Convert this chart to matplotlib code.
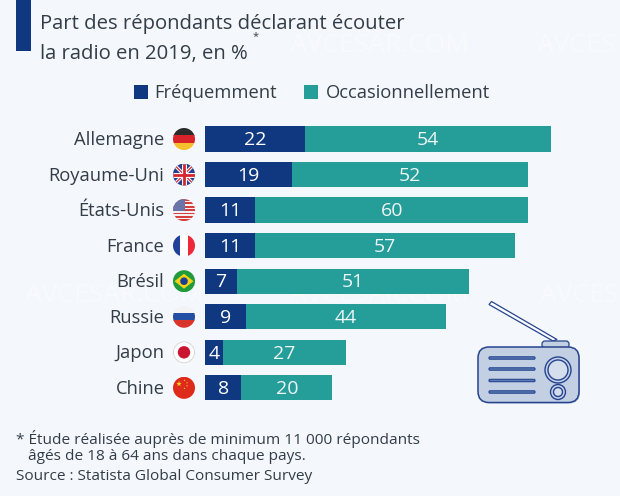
import numpy as np
import matplotlib
matplotlib.use("Agg")
import matplotlib.pyplot as plt
from matplotlib.patches import Circle, Rectangle, FancyBboxPatch, Polygon

countries = ["Allemagne", "Royaume-Uni", "États-Unis", "France", "Brésil", "Russie", "Japon", "Chine"]
frequent = [22, 19, 11, 11, 7, 9, 4, 8]
occasional = [54, 52, 60, 57, 51, 44, 27, 20]
series_names = ["Fréquemment", "Occasionnellement"]
title_lines = ["Part des répondants déclarant écouter", "la radio en 2019, en %"]
notes = ["* Étude réalisée auprès de minimum 11 000 répondants",
         "   âgés de 18 à 64 ans dans chaque pays.",
         "Source : Statista Global Consumer Survey"]

NAVY = "#0f3880"
TEAL = "#259d99"
BG = "#f4f7fb"
TXT = "#333d47"
W, H = 620, 496
plt.rcParams["font.family"] = ["Open Sans", "DejaVu Sans"]

fig = plt.figure(figsize=(W / 100, H / 100), dpi=100, facecolor=BG)

# overlay in pixel coordinates
ov = fig.add_axes([0, 0, 1, 1], zorder=1)
ov.set_xlim(0, W); ov.set_ylim(H, 0); ov.axis("off")

# bar axes
row0, step = 139.0, 35.55
x0, px_per_unit = 205.0, 4.553
n = len(countries)
top_px, bot_px = row0 - step / 2, row0 + (n - 0.5) * step
ax = fig.add_axes([x0 / W, 1 - bot_px / H, (W - x0) / W, (bot_px - top_px) / H], zorder=2)
ax.set_xlim(0, (W - x0) / px_per_unit)
ax.set_ylim(n - 0.5, -0.5)
ax.axis("off"); ax.patch.set_alpha(0)
y = np.arange(n)
freq = np.array(frequent); occ = np.array(occasional)
ax.barh(y, freq, height=0.71, color=NAVY)
ax.barh(y, occ, left=freq, height=0.71, color=TEAL)
for i in range(n):
    ax.text(freq[i] / 2, i - 0.02, str(freq[i]), color="white", ha="center", va="center_baseline", fontsize=14)
    ax.text(freq[i] + occ[i] / 2, i - 0.02, str(occ[i]), color="#eef6f6", ha="center", va="center_baseline", fontsize=14)
    ov.text(164.5, row0 + i * step - 1, countries[i], color=TXT, ha="right", va="center_baseline", fontsize=13.2)

# watermark
for wx, wy, s in [(290, 45, "AVCESAR.COM"), (537, 45, "AVCES"), (25, 295, "AVCESAR.COM"),
                  (290, 295, "AVCESAR.COM"), (540, 295, "AVCES")]:
    ov.text(wx, wy, s, color="#f9fafd", fontsize=19, ha="left", va="center", zorder=0)

# title
ov.add_patch(Rectangle((16, 0), 14.5, 51, color=NAVY, lw=0))
ov.text(40, 21.5, title_lines[0], color=TXT, fontsize=14.6, va="center_baseline")
ov.text(40, 51, title_lines[1], color=TXT, fontsize=14.6, va="center_baseline")
ov.text(253, 35, "*", color=TXT, fontsize=8, va="center_baseline")

# legend
for sx, col, tx, label in [(133.5, NAVY, 154, series_names[0]), (304, TEAL, 325.5, series_names[1])]:
    ov.add_patch(Rectangle((sx, 85), 14, 13.5, color=col, lw=0))
    ov.text(tx, 91, label, color=TXT, fontsize=13.2, va="center_baseline")

# notes
for ny, s in zip([437, 455, 474], notes):
    ov.text(16, ny, s, color=TXT, fontsize=11.1, va="center_baseline")

# flags
FX, FR = 184.0, 11.0
def flag(i, draw):
    cy = row0 + i * step
    clip = Circle((FX, cy), FR, transform=ov.transData)
    arts = draw(cy)
    for a in arts:
        ov.add_artist(a) if not isinstance(a, plt.Line2D) else ov.add_line(a)
        a.set_clip_path(clip)

def R(x, y_, w, h, c):
    return Rectangle((x, y_), w, h, color=c, lw=0)

def stripes_h(cy, cols):
    h = 2 * FR / len(cols)
    return [R(FX - FR, cy - FR + k * h, 2 * FR, h + 0.2, c) for k, c in enumerate(cols)]

def L(xs, ys, c, lw):
    return plt.Line2D(xs, ys, color=c, lw=lw, solid_capstyle="butt")

def de(cy): return stripes_h(cy, ["#2b2b2b", "#d8232a", "#f5c02c"])
def uk(cy):
    a = [R(FX - FR, cy - FR, 2 * FR, 2 * FR, "#26408f")]
    a += [L([FX - 9, FX + 9], [cy - 9, cy + 9], "white", 2.4), L([FX - 9, FX + 9], [cy + 9, cy - 9], "white", 2.4),
          L([FX - 9, FX + 9], [cy - 9, cy + 9], "#d5252f", 0.9), L([FX - 9, FX + 9], [cy + 9, cy - 9], "#d5252f", 0.9),
          L([FX, FX], [cy - FR, cy + FR], "white", 3.6), L([FX - FR, FX + FR], [cy, cy], "white", 3.6),
          L([FX, FX], [cy - FR, cy + FR], "#d5252f", 2), L([FX - FR, FX + FR], [cy, cy], "#d5252f", 2)]
    return a
def us(cy):
    a = stripes_h(cy, ["#d5403f", "#f3f3f3"] * 6 + ["#d5403f"])
    a.append(R(FX - FR, cy - FR, FR + 1, FR + 1, "#6a74a8"))
    return a
def fr(cy):
    return [R(FX - FR, cy - FR, 7.4, 22, "#21409a"), R(FX - 3.7, cy - FR, 7.4, 22, "white"), R(FX + 3.7, cy - FR, 7.4, 22, "#ed2939")]
def br(cy):
    return [R(FX - FR, cy - FR, 22, 22, "#1f9a3c"),
            Polygon([(FX - 9.5, cy), (FX, cy - 7.5), (FX + 9.5, cy), (FX, cy + 7.5)], color="#f7d117", lw=0),
            Circle((FX, cy), 3.8, color="#1c3f8f", lw=0)]
def ru(cy): return stripes_h(cy, ["#f3f3f3", "#2450a4", "#d8342c"])
def jp(cy):
    return [R(FX - FR, cy - FR, 22, 22, "white"), Circle((FX, cy), FR - 0.4, fc="none", ec="#d5d5d5", lw=0.8),
            Circle((FX, cy), 6.2, color="#c9152f", lw=0)]
def cn(cy):
    a = [R(FX - FR, cy - FR, 22, 22, "#de2a1b")]
    for sx, sy, s in [(FX - 5, cy - 4, 2.8), (FX + 0.5, cy - 7.5, 1), (FX + 3, cy - 5, 1), (FX + 3, cy - 2, 1), (FX + 0.5, cy + 0.5, 1)]:
        ang = np.deg2rad(-90 + 36 * np.arange(10))
        rad = np.where(np.arange(10) % 2 == 0, s, s * 0.42)
        a.append(Polygon(np.c_[sx + rad * np.cos(ang), sy + rad * np.sin(ang)], color="#f8d21c", lw=0))
    return a

for i, f in enumerate([de, uk, us, fr, br, ru, jp, cn]):
    flag(i, f)

# radio illustration
EC = "#26448f"; FC = "#c3d0e4"
ov.add_patch(Polygon([(489, 304.5), (491.5, 301.5), (557, 339.5), (553, 341)], fc="white", ec=EC, lw=0.9))
ov.add_patch(FancyBboxPatch((542, 341), 27, 7, boxstyle="round,pad=0,rounding_size=3", fc=FC, ec=EC, lw=0.9))
ov.add_patch(FancyBboxPatch((479, 348), 101, 55.5, boxstyle="round,pad=0,rounding_size=11", fc="#a9bbd8", ec="none", lw=0))
ov.add_patch(FancyBboxPatch((478, 347), 101, 55.5, boxstyle="round,pad=0,rounding_size=11", fc=FC, ec=EC, lw=1.1))
for gy in [358, 369, 380.5, 392]:
    ov.add_patch(FancyBboxPatch((489, gy - 1.2), 46, 2.4, boxstyle="round,pad=0,rounding_size=1", fc="#5c7cb4", ec=EC, lw=0.8))
for r_, fc_ in [(13, FC), (10, "#d5deec")]:
    ov.add_patch(Circle((558, 370), r_, fc=fc_, ec=EC, lw=1))
for r_, fc_ in [(7.5, FC), (4.5, "#d5deec")]:
    ov.add_patch(Circle((558, 392), r_, fc=fc_, ec=EC, lw=1))

fig.savefig("out.png", dpi=100, facecolor=BG)
